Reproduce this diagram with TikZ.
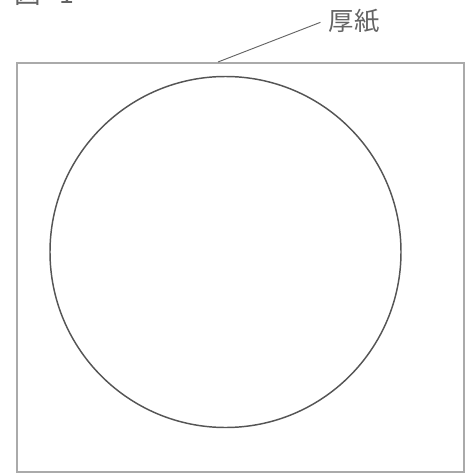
\documentclass[tikz,border=0pt]{standalone}
\usepackage{fontspec}
\newfontfamily\cjk{Noto Sans CJK JP}
\usepackage{tikz}
\usetikzlibrary{positioning}
\definecolor{boardgray}{RGB}{170, 170, 170}
\definecolor{disccolor}{RGB}{85, 85, 85}
\definecolor{labelgray}{RGB}{100, 100, 100}

\begin{document}
\begin{tikzpicture}[x=0.75pt, y=-0.75pt]
    \useasboundingbox (0, 0) rectangle (467, 475);
    \node[anchor=base west, text=labelgray, font=\cjk\fontsize{20}{24}\selectfont, inner sep=0pt] (fig) at (14, 3.5) {図\hspace{0.7em}1};
    \draw[boardgray, line width=1.6pt] (17, 63) rectangle (464, 472);
    \draw[disccolor, line width=1.1pt] (225.5, 252) circle[radius=175.5];
    \coordinate (tip) at (218, 62);
    \node[text=labelgray, font=\cjk\fontsize{19}{23}\selectfont, inner sep=0pt] (board) at (354, 21) {厚紙};
    \draw[labelgray, line width=0.7pt] (tip) -- ([xshift=-6pt, yshift=-1pt]board.west);
  \end{tikzpicture}
\end{document}
